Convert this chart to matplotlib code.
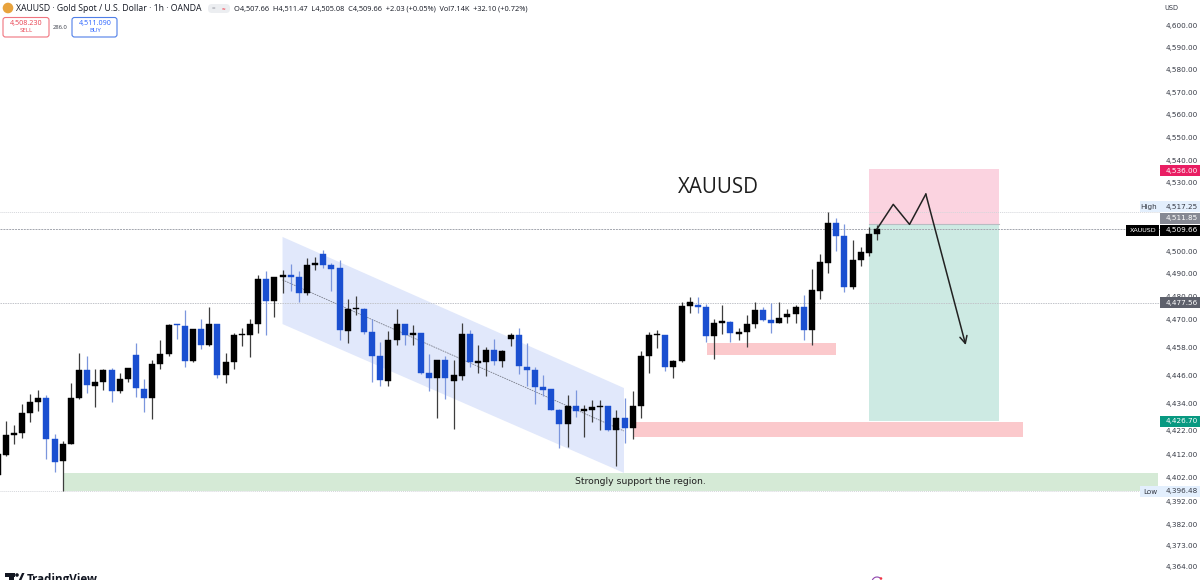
import matplotlib
matplotlib.use("Agg")
import matplotlib.pyplot as plt
from matplotlib.patches import Rectangle, Polygon, FancyBboxPatch, Circle, Arc

plt.rcParams['font.family'] = ['Open Sans', 'DejaVu Sans']

# candles (black = up, blue = down)
opens = [4403.2, 4411.6, 4420.1, 4421.0, 4429.6, 4434.4, 4436.3, 4418.5, 4408.9, 4416.3,
         4436.3, 4448.4, 4441.5, 4443.2, 4448.4, 4439.3, 4444.5, 4454.7, 4440.2, 4436.4,
         4450.7, 4455.0, 4468.2, 4467.5, 4452.3, 4465.9, 4459.3, 4468.4, 4446.2, 4451.7,
         4463.3, 4463.6, 4468.1, 4487.8, 4478.3, 4488.5, 4489.4, 4488.8, 4481.5, 4493.9,
         4498.7, 4493.9, 4492.4, 4465.3, 4474.7, 4474.9, 4464.9, 4454.2, 4443.6, 4461.1,
         4468.4, 4463.4, 4464.3, 4447.2, 4444.7, 4452.8, 4443.6, 4445.9, 4464.0, 4451.5,
         4451.9, 4457.1, 4452.3, 4461.7, 4463.4, 4449.8, 4448.4, 4440.9, 4440.1, 4431.0,
         4425.2, 4432.9, 4430.6, 4431.0, 4432.3, 4432.8, 4422.3, 4427.4, 4423.3, 4432.6,
         4454.2, 4463.3, 4463.4, 4449.4, 4452.0, 4476.1, 4476.7, 4475.7, 4462.8, 4468.8,
         4469.3, 4464.0, 4464.6, 4468.1, 4474.1, 4470.1, 4468.7, 4471.2, 4472.6, 4475.4,
         4465.8, 4482.7, 4494.8, 4512.4, 4506.6, 4484.3, 4496.2, 4499.2, 4507.66]
highs = [4414.1, 4426.2, 4424.6, 4433.8, 4437.9, 4439.6, 4437.5, 4420.7, 4417.8, 4442.6,
         4455.7, 4454.2, 4448.8, 4448.7, 4449.1, 4446.9, 4449.1, 4460.1, 4444.5, 4452.5,
         4461.2, 4468.1, 4468.4, 4474.2, 4466.2, 4470.3, 4475.7, 4468.4, 4455.7, 4464.4,
         4466.5, 4470.6, 4489.7, 4491.1, 4488.8, 4491.7, 4494.3, 4491.1, 4497.0, 4497.3,
         4500.6, 4494.8, 4496.2, 4479.3, 4480.5, 4475.1, 4470.6, 4460.4, 4465.2, 4474.9,
         4468.4, 4467.7, 4464.4, 4455.0, 4452.8, 4454.2, 4452.5, 4468.5, 4465.5, 4458.9,
         4458.3, 4461.8, 4456.9, 4464.2, 4466.3, 4460.1, 4449.6, 4446.2, 4440.1, 4431.3,
         4437.5, 4439.6, 4433.1, 4435.3, 4435.3, 4432.8, 4430.9, 4436.0, 4439.2, 4456.7,
         4464.7, 4465.6, 4463.4, 4452.8, 4477.9, 4479.8, 4479.8, 4476.8, 4470.3, 4476.7,
         4469.5, 4466.6, 4472.0, 4477.9, 4475.4, 4477.3, 4477.9, 4474.7, 4476.4, 4480.8,
         4492.2, 4498.7, 4517.25, 4514.3, 4511.9, 4504.8, 4501.6, 4510.4, 4511.47]
lows = [4401.0, 4411.2, 4416.3, 4418.8, 4425.8, 4430.4, 4410.0, 4404.6, 4396.48, 4416.3,
        4435.6, 4438.2, 4432.3, 4439.6, 4434.5, 4438.2, 4443.3, 4436.7, 4430.2, 4427.2,
        4448.8, 4454.5, 4461.8, 4449.6, 4451.7, 4457.4, 4458.6, 4445.0, 4442.6, 4448.8,
        4458.6, 4453.9, 4464.4, 4463.3, 4471.4, 4481.9, 4482.4, 4477.9, 4480.9, 4491.9,
        4492.4, 4482.7, 4461.1, 4459.8, 4472.0, 4463.7, 4443.0, 4441.4, 4441.4, 4459.3,
        4459.3, 4458.9, 4446.6, 4439.3, 4427.7, 4435.6, 4422.9, 4444.0, 4449.8, 4446.9,
        4445.5, 4450.6, 4449.8, 4458.6, 4446.6, 4441.5, 4433.5, 4437.0, 4430.9, 4414.8,
        4415.1, 4428.0, 4419.5, 4425.8, 4422.6, 4422.1, 4407.1, 4417.0, 4418.5, 4427.7,
        4446.9, 4457.9, 4448.0, 4444.7, 4451.8, 4472.8, 4472.8, 4460.4, 4453.1, 4463.7,
        4460.4, 4461.1, 4458.2, 4466.6, 4469.5, 4464.2, 4468.5, 4468.8, 4468.8, 4461.1,
        4459.0, 4479.3, 4490.4, 4500.2, 4482.2, 4483.4, 4493.3, 4498.0, 4505.08]
closes = [4411.9, 4420.1, 4421.1, 4429.9, 4434.4, 4436.3, 4418.5, 4408.7, 4416.3, 4436.0,
          4448.4, 4441.7, 4443.3, 4448.5, 4439.3, 4444.5, 4449.1, 4440.5, 4436.4, 4450.9,
          4455.1, 4467.7, 4467.7, 4452.3, 4465.9, 4459.3, 4468.4, 4446.2, 4451.7, 4463.4,
          4463.7, 4468.1, 4487.8, 4478.4, 4488.5, 4489.4, 4488.8, 4481.5, 4493.9, 4494.8,
          4493.9, 4492.2, 4465.6, 4474.7, 4475.1, 4464.9, 4454.2, 4444.0, 4461.1, 4468.4,
          4463.6, 4464.3, 4447.2, 4444.7, 4452.8, 4444.7, 4446.1, 4464.0, 4451.7, 4452.0,
          4457.1, 4452.3, 4456.6, 4463.4, 4450.1, 4448.1, 4440.9, 4439.8, 4431.0, 4425.2,
          4432.8, 4430.4, 4431.3, 4432.3, 4432.9, 4422.3, 4427.4, 4423.3, 4432.6, 4454.2,
          4463.4, 4463.7, 4449.4, 4452.0, 4476.1, 4477.6, 4475.7, 4462.8, 4468.8, 4469.7,
          4464.2, 4464.6, 4468.1, 4474.1, 4470.1, 4468.8, 4471.0, 4472.6, 4475.4, 4465.8,
          4483.0, 4495.1, 4512.4, 4506.6, 4484.3, 4496.2, 4499.5, 4507.6, 4509.66]

price_ticks = [4600, 4590, 4580, 4570, 4560, 4550, 4540, 4530, 4520, 4510, 4500, 4490, 4480, 4470,
               4458, 4446, 4434, 4422, 4412, 4402, 4392, 4382, 4373, 4364]

last_price = 4509.66
day_high = 4517.25
day_low = 4396.48
level_mid = 4477.56
stop_price = 4536.00
entry_price = 4511.85
target_price = 4426.70

BLACK = '#000000'
BLUE = '#1a4fd0'
W, H = 1200, 580

fig = plt.figure(figsize=(12, 5.8), dpi=100, facecolor='white')
ax = fig.add_axes([0, 0, 1160 / W, 1])
ax.set_yscale('log')
ax.set_xlim(0.304, 0.304 + 1160 / 8.143)
ax.set_ylim(4358.4, 4611.2)
ax.minorticks_off()
ax.set_xticks([])
ax.yaxis.tick_right()
ax.set_yticks(price_ticks)
ax.set_yticklabels([f'{t:,.2f}' for t in price_ticks], fontsize=5.2, color='#363a45', family='DejaVu Sans')
ax.tick_params(axis='y', length=0, pad=4)
ax.minorticks_off()
for s in ax.spines.values():
    s.set_visible(False)

# zones
ax.add_patch(Polygon([(35.0, 4506.2), (76.93, 4440.5), (76.93, 4404.0), (35.0, 4468.2)],
                     fc='#e1e8fb', ec='none', zorder=1))
ax.plot([35.0, 76.93], [4487.4, 4422.0], color='#7a7e8a', lw=0.6, ls=(0, (2, 1)), zorder=1.5)
ax.add_patch(Rectangle((8.04, 4396.48), 134.5, 4404.0 - 4396.48, fc='#d5ead6', ec='none', zorder=1))
ax.add_patch(Rectangle((87.1, 4454.6), 15.9, 5.5, fc='#fbc9cc', ec='none', zorder=1))
ax.add_patch(Rectangle((78.15, 4419.4), 47.75, 6.55, fc='#fbc9cc', ec='none', zorder=1))
ax.add_patch(Rectangle((107.0, entry_price), 16.0, stop_price - entry_price, fc='#fbd3e0', ec='none', zorder=1))
ax.add_patch(Rectangle((107.0, target_price - 0.6), 16.0, entry_price - target_price + 0.6, fc='#cdeae3', ec='none', zorder=1))
ax.plot([107.0, 123.0], [entry_price, entry_price], color='#b9bcc2', lw=0.8, zorder=1.2)

# levels
for lev, col, dash in [(day_high, '#d4d6db', (1, 1)), (last_price, '#a3a6ae', (2, 1)),
                       (level_mid, '#c2c4ca', (1.5, 1)), (day_low, '#d4d6db', (1, 1))]:
    ax.axhline(lev, color=col, lw=0.7, ls=(0, dash), zorder=1.6)

# candles
for i in range(len(opens)):
    up = closes[i] >= opens[i]
    ax.vlines(i, lows[i], highs[i], color='#3d3d3d' if up else '#7b96dd', lw=0.9, zorder=3)
    ax.bar(i, abs(closes[i] - opens[i]), 0.74, bottom=min(opens[i], closes[i]),
           color=BLACK if up else BLUE, ec=BLACK if up else BLUE, lw=0.3, zorder=4)

# projected path
path_x = [108.0, 110.0, 112.0, 114.0]
path_y = [4509.66, 4520.5, 4511.7, 4525.0]
ax.plot(path_x, path_y, color='#222222', lw=1.1, zorder=5)
ax.annotate('', xy=(118.9, 4459.1), xytext=(114.0, 4525.0),
            arrowprops=dict(arrowstyle='->', color='#222222', lw=1.1, mutation_scale=13,
                            shrinkA=0, shrinkB=0), zorder=5)

ax.text(88.5, 4528.0, 'XAUUSD', fontsize=14.8, color='#1e1e1e', ha='center', va='center', zorder=6)
ax.text(78.9, 4400.2, 'Strongly support the region.', fontsize=6.65, color='#1e1e1e', family='DejaVu Sans',
        ha='center', va='center', zorder=6)

# chrome drawn in pixel coordinates
ov = fig.add_axes([0, 0, 1, 1], facecolor='none')
ov.set_xlim(0, W)
ov.set_ylim(H, 0)
ov.axis('off')


def tag(x0, x1, y0, y1, txt, bg, fg, size=5.2):
    ov.add_patch(Rectangle((x0, y0), x1 - x0, y1 - y0, fc=bg, ec='none'))
    ov.text(x1 - 3 if x1 < W else 1165.5, (y0 + y1) / 2, txt, color=fg, fontsize=size,
            family='DejaVu Sans', ha='right' if x1 < W else 'left', va='center')


ov.text(1164, 8, 'USD', fontsize=4.8, color='#363a45', va='center', family='DejaVu Sans')
tag(1160, 1200, 165, 176, '4,536.00', '#e91e63', 'white')
tag(1140, 1160, 201, 212, 'High', '#e3effd', '#363a45')
tag(1160, 1200, 201, 212, '4,517.25', '#e3effd', '#363a45')
tag(1160, 1200, 213, 223.5, '4,511.85', '#868993', 'white')
tag(1126, 1159, 224.5, 236, 'XAUUSD', '#000000', 'white', 4.6)
tag(1160, 1200, 224.5, 236, '4,509.66', '#000000', 'white')
tag(1160, 1200, 297, 308, '4,477.56', '#5d606b', 'white')
tag(1160, 1200, 415.5, 427, '4,426.70', '#089981', 'white')
tag(1140, 1160, 486, 497, 'Low', '#e3effd', '#363a45')
tag(1160, 1200, 486, 497, '4,396.48', '#e3effd', '#363a45')

# header
ov.add_patch(Circle((8, 8), 5.3, fc='#e8a33d', ec='none'))
ov.text(16, 8.5, 'XAUUSD · Gold Spot / U.S. Dollar · 1h · OANDA', fontsize=6.3, color='#131722', va='center')
ov.add_patch(FancyBboxPatch((208, 4), 22, 9, boxstyle='round,pad=0,rounding_size=4', fc='#eceef1', ec='none'))
ov.text(213, 8.5, '=', fontsize=4.5, color='#787b86', ha='center', va='center')
ov.text(224, 8.5, '≈', fontsize=4.5, color='#f23645', ha='center', va='center')
ov.text(234, 8.5, 'O4,507.66  H4,511.47  L4,505.08  C4,509.66  +2.03 (+0.05%)  Vol7.14K  +32.10 (+0.72%)',
        fontsize=5.35, color='#131722', va='center')
ov.add_patch(FancyBboxPatch((3, 17.5), 46, 19.5, boxstyle='round,pad=0,rounding_size=2.5', fc='white', ec='#f0747f', lw=0.8))
ov.add_patch(FancyBboxPatch((72, 17.5), 45, 19.5, boxstyle='round,pad=0,rounding_size=2.5', fc='white', ec='#4f7fe8', lw=0.8))
ov.text(26, 23, '4,508.230', fontsize=5.2, color='#e8404f', ha='center', va='center')
ov.text(26, 31, 'SELL', fontsize=4.4, color='#e8404f', ha='center', va='center')
ov.text(95, 23, '4,511.090', fontsize=5.2, color='#2962ff', ha='center', va='center')
ov.text(95, 31, 'BUY', fontsize=4.4, color='#2962ff', ha='center', va='center')
ov.text(60, 27.5, '286.0', fontsize=4.2, color='#363a45', ha='center', va='center')

# TradingView mark, cut off by the bottom edge
ov.add_patch(Rectangle((5, 573), 9.5, 3.5, fc='#131722', ec='none'))
ov.add_patch(Rectangle((9, 573), 4.5, 9, fc='#131722', ec='none'))
ov.add_patch(Circle((17, 575), 1.8, fc='#131722', ec='none'))
ov.add_patch(Polygon([(18, 582), (22, 573), (24.5, 573), (20.5, 582)], fc='#131722', ec='none'))
ov.text(26.5, 579.5, 'TradingView', fontsize=8.4, fontweight='bold', color='#131722', va='center', clip_on=True)

# small mark at the bottom edge
ov.add_patch(Arc((877, 582), 10, 10, theta1=180, theta2=320, color='#8e44ad', lw=0.8))
ov.add_patch(Circle((881, 578.5), 1.3, fc='#f23645', ec='none'))

fig.savefig('out.png', dpi=100)
